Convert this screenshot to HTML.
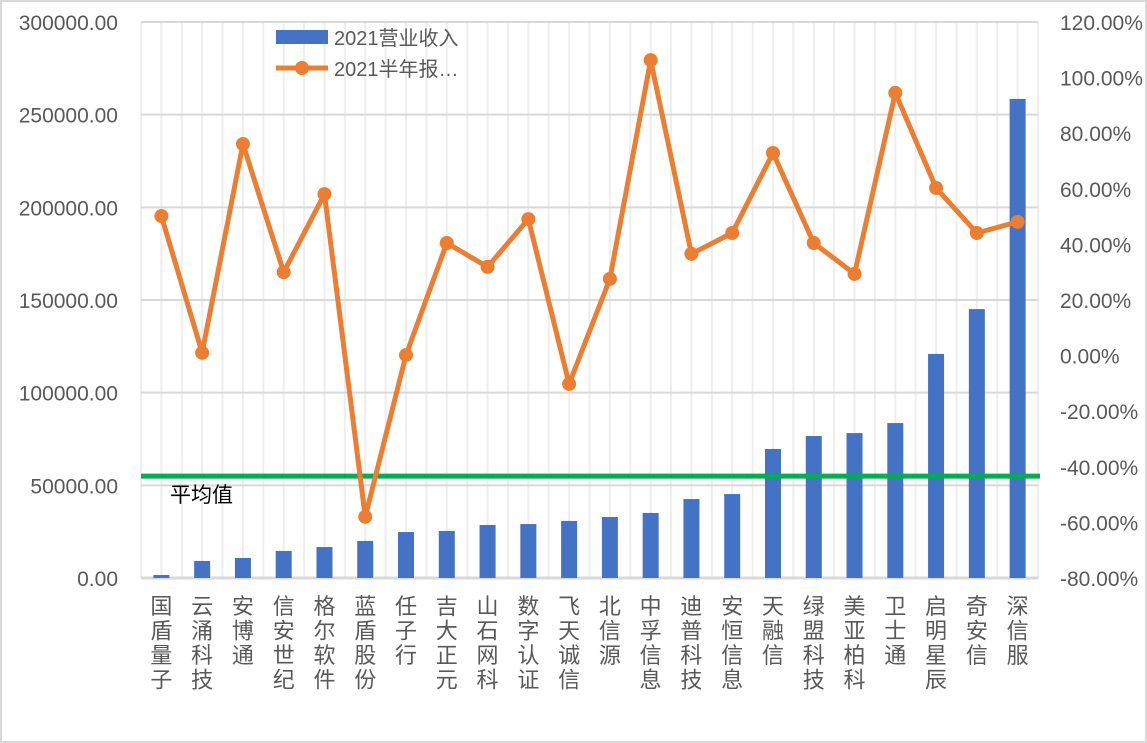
<!DOCTYPE html>
<html><head><meta charset="utf-8"><style>
body{margin:0;background:#fff}
svg{display:block;font-family:"Liberation Sans","Noto Sans CJK SC",sans-serif}
</style></head><body>
<svg id="chart" width="1147" height="743">
<rect x="1" y="1" width="1145" height="741" fill="#fff" stroke="#d9d9d9" stroke-width="2"/>
<g id="grid"></g><g id="bars"></g><g id="avg"></g><g id="line"></g><g id="axes"></g>
<g>
<rect x="276" y="30" width="52" height="14" fill="#4472c4"/>
<text x="334" y="45" font-size="20" fill="#595959">2021营业收入</text>
<line x1="276" y1="68" x2="328" y2="68" stroke="#ed7d31" stroke-width="5"/>
<circle cx="302" cy="68" r="7" fill="#ed7d31"/>
<text x="334" y="76" font-size="20" fill="#595959">2021半年报…</text>
</g>
</svg>
<script>
const categories=["国盾量子","云涌科技","安博通","信安世纪","格尔软件","蓝盾股份","任子行","吉大正元","山石网科","数字认证","飞天诚信","北信源","中孚信息","迪普科技","安恒信息","天融信","绿盟科技","美亚柏科","卫士通","启明星辰","奇安信","深信服"];
const revenue=[1600,9200,10800,14600,16700,20000,24800,25400,28600,29100,30800,32900,35100,42600,45300,69600,76600,78200,83600,120900,145100,258500];
const growth=[50.2,1.0,76.1,30.0,58.1,-58.0,0.2,40.5,31.9,49.1,-10.2,27.6,106.3,36.6,44.1,72.9,40.5,29.4,94.5,60.3,44.1,48.1];
const averageValue=[55000];
const leftTicks=[0,50000,100000,150000,200000,250000,300000];
const rightTicks=[-80,-60,-40,-20,0,20,40,60,80,100,120];
const NS="http://www.w3.org/2000/svg";
const X0=141,X1=1038,Y0=578,Y1=22;
const step=(X1-X0)/categories.length;
const xc=i=>X0+step*(i+0.5);
const yL=v=>Y0-(v/300000)*(Y0-Y1);
const yR=v=>Y0-((v+80)/200)*(Y0-Y1);
function mk(tag,attrs,parent,txt){const e=document.createElementNS(NS,tag);for(const k in attrs)e.setAttribute(k,attrs[k]);if(txt!==undefined)e.textContent=txt;document.getElementById(parent).appendChild(e);return e;}
for(let k=0;k<=categories.length*2;k++){const x=X0+k*step/2;const e=mk('line',{x1:x,y1:Y1,x2:x,y2:Y0,stroke:'#eeeeee','stroke-width':2},'grid');

}
leftTicks.forEach(t=>{const y=yL(t);const g=mk('line',{x1:X0,y1:y,x2:X1,y2:y,stroke:'#d9d9d9','stroke-width':t===0?3:2},'grid');


const l=mk('text',{x:118,y:y+8,'font-size':21,fill:'#595959','text-anchor':'end'},'axes',t.toFixed(2));

});
rightTicks.forEach(t=>{const y=yR(t);const l=mk('text',{x:1060,y:y+8,'font-size':21,fill:'#595959'},'axes',t.toFixed(2)+'%');

});
categories.forEach((c,i)=>{const b=mk('rect',{x:xc(i)-8,y:yL(revenue[i]),width:16,height:Y0-yL(revenue[i]),fill:'#4472c4'},'bars');


const t=mk('text',{x:xc(i),'font-size':22,fill:'#595959','text-anchor':'middle'},'axes');


[...c].forEach((ch,j)=>{const s=document.createElementNS(NS,'tspan');s.setAttribute('x',xc(i));s.setAttribute('y',614+j*24.5);s.textContent=ch;t.appendChild(s);});});
const ay=yL(averageValue[0]);
const al=mk('line',{x1:X0,y1:ay,x2:X1+2,y2:ay,stroke:'#00b050','stroke-width':5},'avg');


const at=mk('text',{x:170,y:ay+26,'font-size':21,fill:'#000'},'avg','平均值');


const pts=growth.map((v,i)=>xc(i)+','+yR(v)).join(' ');
const pl=mk('polyline',{points:pts,fill:'none',stroke:'#ed7d31','stroke-width':5,'stroke-linejoin':'round'},'line');


growth.forEach((v,i)=>{const c=mk('circle',{cx:xc(i),cy:yR(v),r:7,fill:'#ed7d31'},'line');

});
</script>
</body></html>
